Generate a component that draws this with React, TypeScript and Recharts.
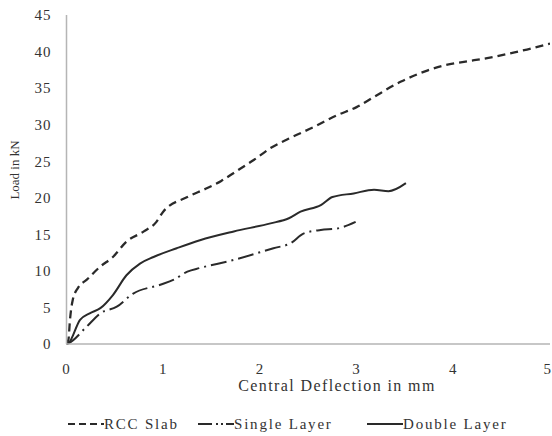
import React from 'react';
import { LineChart, Line, XAxis, YAxis, Legend, Customized } from 'recharts';

const xTicks = [0, 1, 2, 3, 4, 5];
const yTicks = [0, 5, 10, 15, 20, 25, 30, 35, 40, 45];

const rccX = [0, 0.02, 0.036, 0.064, 0.12, 0.21, 0.35, 0.48, 0.62, 0.8, 0.93, 1.0, 1.25, 1.45, 1.6, 1.73, 1.94, 2.11, 2.3, 2.56, 2.8, 3.0, 3.18, 3.46, 3.73, 3.9, 4.11, 4.35, 4.6, 4.8, 5.0];
const rccY = [0, 0.6, 3.3, 6.0, 7.7, 8.8, 10.6, 11.9, 14.0, 15.4, 16.7, 18.1, 20.1, 21.3, 22.3, 23.4, 25.2, 26.8, 28.1, 29.7, 31.3, 32.4, 33.8, 35.9, 37.4, 38.1, 38.6, 39.1, 39.8, 40.4, 41.1];

const singleX = [0, 0.02, 0.21, 0.35, 0.52, 0.69, 0.97, 1.11, 1.25, 1.38, 1.73, 2.14, 2.32, 2.45, 2.63, 2.8, 2.99];
const singleY = [0, 0.1, 2.4, 4.2, 5.1, 6.9, 8.1, 8.8, 9.9, 10.4, 11.5, 13.1, 13.8, 15.1, 15.6, 15.8, 16.7];

const doubleX = [0, 0.02, 0.14, 0.24, 0.35, 0.48, 0.62, 0.76, 0.9, 1.14, 1.38, 1.73, 2.11, 2.3, 2.42, 2.63, 2.75, 2.97, 3.18, 3.33, 3.51];
const doubleY = [0, 0.1, 3.3, 4.2, 4.9, 6.7, 9.4, 11.0, 11.9, 13.1, 14.2, 15.4, 16.5, 17.2, 18.1, 19.0, 20.1, 20.6, 21.1, 20.9, 22.0];

const toData = (xs: number[], ys: number[]) => xs.map((x, i) => ({ x, y: ys[i] }));
const rccData = toData(rccX, rccY);
const singleData = toData(singleX, singleY);
const doubleData = toData(doubleX, doubleY);

const FONT = 'Liberation Serif, DejaVu Serif, serif';
const INK = '#2a2a2a';
const TEXT = '#333';

const legendItems = [
  { name: 'RCC Slab', dash: '7 4', left: 68 },
  { name: 'Single Layer', dash: '14 4 2 3 2 3', left: 198 },
  { name: 'Double Layer', dash: '', left: 367 },
];

const LegendContent = () => (
  <div style={{ position: 'relative', width: 552, height: 20 }}>
    {legendItems.map((it) => (
      <div key={it.name} style={{ position: 'absolute', left: it.left, top: 0, display: 'flex', alignItems: 'center', height: 20 }}>
        <svg width={36} height={10} style={{ display: 'block' }}>
          <line x1={0} y1={5} x2={36} y2={5} stroke={INK} strokeWidth={2} strokeDasharray={it.dash || undefined} />
        </svg>
        <span style={{ fontFamily: FONT, fontSize: 15, letterSpacing: 1.8, color: TEXT, whiteSpace: 'nowrap', lineHeight: '20px' }}>{it.name}</span>
      </div>
    ))}
  </div>
);

const Titles = () => (
  <g>
    <text x={337} y={391} textAnchor="middle" fontFamily={FONT} fontSize={16} letterSpacing={1.4} fill={TEXT}>
      Central Deflection in mm
    </text>
    <text x={19} y={170} textAnchor="middle" fontFamily={FONT} fontSize={13} fill={TEXT} transform="rotate(-90 19 170)">
      Load in kN
    </text>
  </g>
);

export default function App() {
  return (
    <div style={{ position: 'absolute', left: 0, top: 0, width: 552, height: 436, background: '#fff' }}>
      <LineChart width={552} height={436} margin={{ top: 15, right: 2, bottom: 62, left: 0 }}>
        <XAxis
          type="number"
          dataKey="x"
          domain={[0, 5]}
          ticks={xTicks}
          allowDataOverflow
          height={30}
          axisLine={{ stroke: '#b5b5b5', strokeWidth: 1.5 }}
          tickLine={false}
          tickSize={0}
          tickMargin={19}
          tick={{ fontFamily: FONT, fontSize: 15, fill: TEXT, letterSpacing: 1 }}
        />
        <YAxis
          type="number"
          dataKey="y"
          domain={[0, 45]}
          ticks={yTicks}
          width={66.5}
          axisLine={{ stroke: '#b5b5b5', strokeWidth: 1.5 }}
          tickLine={false}
          tickSize={0}
          tickMargin={15}
          tick={{ fontFamily: FONT, fontSize: 15, fill: TEXT, letterSpacing: 1 }}
        />
        <Line data={rccData} dataKey="y" name="RCC Slab" type="monotone" stroke={INK} strokeWidth={2.3} strokeDasharray="8 5" dot={false} isAnimationActive={false} />
        <Line data={singleData} dataKey="y" name="Single Layer" type="monotone" stroke={INK} strokeWidth={2} strokeDasharray="16 5 2 5" dot={false} isAnimationActive={false} />
        <Line data={doubleData} dataKey="y" name="Double Layer" type="monotone" stroke={INK} strokeWidth={2} dot={false} isAnimationActive={false} />
        <Legend verticalAlign="middle" content={<LegendContent />} wrapperStyle={{ position: 'absolute', left: 0, top: 414, width: 552, height: 20 }} />
        <Customized component={Titles} />
      </LineChart>
    </div>
  );
}
